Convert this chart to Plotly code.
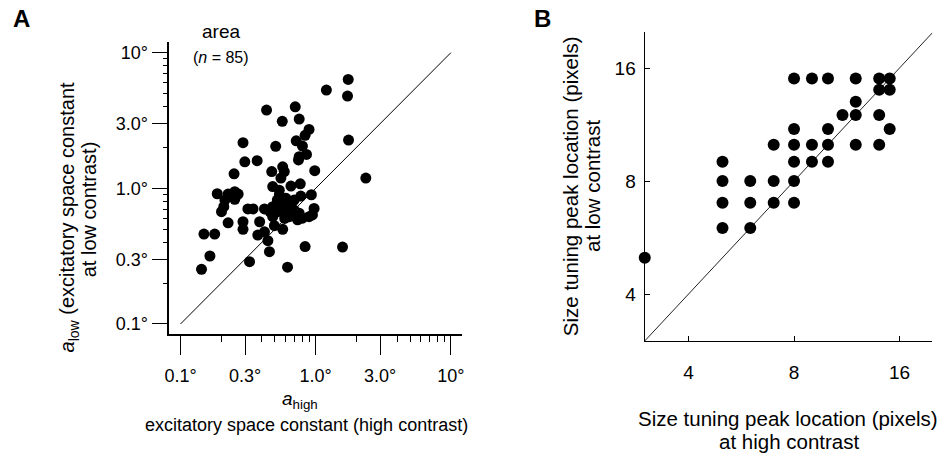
import plotly.graph_objects as go

# Panel A: excitatory space constant (degrees), high vs low contrast, n = 85
a_high = [1.74, 1.20, 1.72, 0.706, 0.433, 0.566, 0.755, 0.893, 0.835, 0.290,
          0.506, 1.75, 0.718, 0.798, 0.855, 0.746, 0.299, 0.369, 0.249, 0.984,
          0.473, 0.570, 0.586, 0.553, 0.481, 0.656, 0.769, 0.187, 0.225, 0.252,
          0.267, 0.213, 0.252, 0.201, 0.209, 0.538, 0.603, 0.776, 0.929, 0.315,
          0.344, 0.418, 0.481, 0.538, 0.656, 0.693, 0.755, 0.973, 0.946, 0.225,
          0.290, 0.290, 0.385, 0.481, 0.603, 0.638, 0.735, 0.798, 0.893, 0.373,
          0.418, 0.495, 0.570, 0.443, 0.455, 0.149, 0.179, 0.835, 1.58, 0.165,
          0.324, 0.619, 0.143, 2.35, 0.755, 0.570, 0.620, 0.693, 0.520, 0.710,
          0.538, 0.520, 0.240, 0.460, 0.590]
a_low = [6.35, 5.30, 4.79, 3.99, 3.78, 3.12, 3.24, 2.72, 2.46, 2.17,
         2.04, 2.27, 2.24, 2.05, 1.78, 1.62, 1.57, 1.60, 1.28, 1.35,
         1.33, 1.44, 1.33, 1.19, 1.03, 1.04, 1.08, 0.912, 0.908, 0.944,
         0.908, 0.820, 0.830, 0.673, 0.732, 0.893, 0.844, 0.877, 0.897, 0.705,
         0.705, 0.705, 0.732, 0.692, 0.775, 0.692, 0.655, 0.711, 0.637, 0.557,
         0.567, 0.499, 0.567, 0.618, 0.673, 0.618, 0.586, 0.603, 0.618, 0.452,
         0.478, 0.530, 0.499, 0.411, 0.341, 0.460, 0.460, 0.372, 0.369, 0.317,
         0.288, 0.262, 0.253, 1.19, 1.71, 0.753, 0.714, 0.820, 0.672, 0.627,
         0.970, 0.820, 0.870, 0.670, 0.600]

# Panel B: size tuning peak location (pixels)
peak_high = [3, 5, 5, 5, 5, 6, 6, 6, 7, 7, 7, 8, 8, 8, 8, 8, 8,
             9, 9, 9, 10, 10, 10, 10, 11, 12, 12, 12, 12,
             14, 14, 14, 14, 15, 15, 15]
peak_low = [5, 9, 8, 7, 6, 8, 7, 6, 10, 8, 7, 15, 11, 10, 9, 8, 7,
            15, 10, 9, 15, 11, 10, 9, 12, 15, 13, 12, 10,
            15, 14, 12, 10, 15, 14, 11]

a_tick_vals = [0.1, 0.3, 1.0, 3.0, 10.0]
a_tick_text = ["0.1°", "0.3°", "1.0°", "3.0°", "10°"]
a_minor_vals = [0.2, 0.4, 0.5, 0.6, 0.7, 0.8, 0.9, 2, 4, 5, 6, 7, 8, 9]
b_tick_vals = [4, 8, 16]
b_tick_text = ["4", "8", "16"]

W, H = 944, 455
FONT = "Liberation Sans, Arial, Helvetica, sans-serif"


def px(x):
    return x / W


def py(y):
    return 1 - y / H


fig = go.Figure()

# identity lines
fig.add_trace(go.Scatter(x=[0.1, 10], y=[0.1, 10], mode="lines",
                         line=dict(color="black", width=1),
                         xaxis="x", yaxis="y", hoverinfo="skip"))
fig.add_trace(go.Scatter(x=[2.9, 20], y=[2.9, 20], mode="lines",
                         line=dict(color="#222", width=1),
                         xaxis="x2", yaxis="y2", hoverinfo="skip"))

fig.add_trace(go.Scatter(x=a_high, y=a_low, mode="markers",
                         marker=dict(color="black", size=11, line=dict(width=0)),
                         xaxis="x", yaxis="y", cliponaxis=False))
fig.add_trace(go.Scatter(x=peak_high, y=peak_low, mode="markers",
                         marker=dict(color="black", size=12, line=dict(width=0)),
                         xaxis="x2", yaxis="y2", cliponaxis=False))

axis_common = dict(showgrid=False, zeroline=False, showline=True,
                   tickcolor="black", linecolor="black")

fig.update_layout(
    width=W, height=H,
    margin=dict(l=0, r=0, t=0, b=0),
    paper_bgcolor="white", plot_bgcolor="white",
    showlegend=False,
    font=dict(family=FONT, color="black"),
    xaxis=dict(type="log", range=[-1.083, 1.081],
               domain=[px(165.7), px(460.7)], anchor="y",
               tickmode="array", tickvals=a_tick_vals, ticktext=a_tick_text,
               ticks="outside", ticklen=19, tickwidth=1.3, linewidth=1.5,
               ticklabelstandoff=6,
               tickfont=dict(size=18, family=FONT, color="black"),
               minor=dict(tickmode="array", tickvals=a_minor_vals,
                          ticks="outside", ticklen=6, tickwidth=1.3,
                          tickcolor="black", showgrid=False),
               **axis_common),
    yaxis=dict(type="log", range=[-1.074, 1.079],
               domain=[py(334), py(42)], anchor="x",
               tickmode="array", tickvals=a_tick_vals, ticktext=a_tick_text,
               ticks="outside", ticklen=16, tickwidth=1.3, linewidth=1.5,
               tickfont=dict(size=18, family=FONT, color="black"),
               minor=dict(tickmode="array", tickvals=a_minor_vals,
                          ticks="outside", ticklen=5, tickwidth=1.3,
                          tickcolor="black", showgrid=False),
               **axis_common),
    xaxis2=dict(type="log", range=[0.4765, 1.297],
                domain=[px(645), px(935)], anchor="y2",
                tickmode="array", tickvals=b_tick_vals, ticktext=b_tick_text,
                ticks="inside", ticklen=5, tickwidth=1, linewidth=1,
                ticklabelstandoff=14,
                tickfont=dict(size=19, family=FONT, color="black"),
                **axis_common),
    yaxis2=dict(type="log", range=[0.477, 1.300],
                domain=[py(341), py(32)], anchor="x2",
                tickmode="array", tickvals=b_tick_vals, ticktext=b_tick_text,
                ticks="inside", ticklen=5, tickwidth=1, linewidth=1,
                ticklabelstandoff=4,
                tickfont=dict(size=19, family=FONT, color="black"),
                **axis_common),
)


def label(text, x, y, size, angle=0, **kw):
    fig.add_annotation(text=text, x=px(x), y=py(y), xref="paper", yref="paper",
                       showarrow=False, textangle=angle, xanchor="center",
                       yanchor="middle", font=dict(size=size, family=FONT,
                                                   color="black"), **kw)


# panel letters
label("<b>A</b>", 17, 19, 24)
label("<b>B</b>", 542, 19, 24)

# panel A texts
label("area", 218, 32, 19)
label("(<i>n</i> = 85)", 218, 57, 16)
label("<i>a</i><sub>low</sub> (excitatory space constant", 64, 217, 20, angle=-90)
label("at low contrast)", 85, 209, 20, angle=-90)
label("<i>a</i><sub>high</sub>", 298, 400, 19)
label("excitatory space constant (high contrast)", 304, 425, 18)

# panel B texts
label("Size tuning peak location (pixels)", 570, 186, 20.5, angle=-90)
label("at low contrast", 592, 186, 20.5, angle=-90)
label("Size tuning peak location (pixels)", 790, 418, 20.5)
label("at high contrast", 791, 441, 20.5)

fig.write_html("out.html")
